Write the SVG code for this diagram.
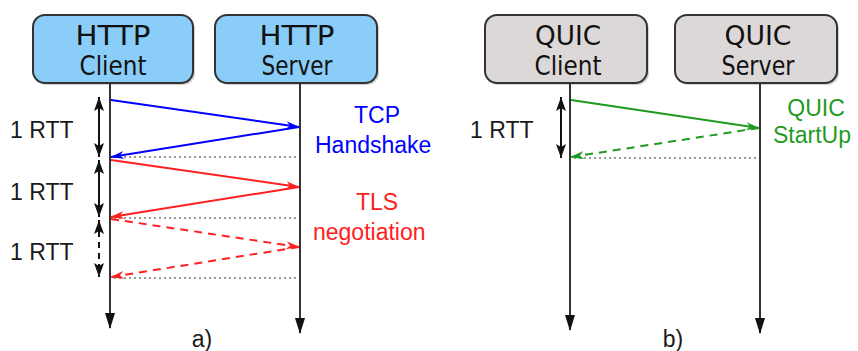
<svg xmlns="http://www.w3.org/2000/svg" width="858" height="351" viewBox="0 0 858 351">
  <style>
    .box-http { fill: #89cdf8; stroke: #333; stroke-width: 2; }
    .box-quic { fill: #dcd8d8; stroke: #333; stroke-width: 2; }
    .shadow { fill: #999; opacity: 0.45; }
    .boxtxt { font-family: "DejaVu Sans", sans-serif; font-size: 27px; fill: #111; text-anchor: middle; }
    .life { stroke: #333; stroke-width: 2; fill: none; }
    .rtt { stroke: #111; stroke-width: 2; fill: none; }
    .dot { stroke: #777; stroke-width: 1.5; stroke-dasharray: 2 3; fill: none; }
    .lbl { font-family: "Liberation Sans", Arial, sans-serif; font-size: 23px; }
    .rtttxt { font-family: "Liberation Sans", Arial, sans-serif; font-size: 23px; fill: #1a1a1a; }
    .msg { stroke-width: 2; fill: none; }
    .dash { stroke-dasharray: 8 6; }
  </style>
  <defs>
    <marker id="lifehead" markerWidth="16" markerHeight="10" refX="15" refY="5" orient="auto" markerUnits="userSpaceOnUse" viewBox="0 0 16 10">
      <path d="M0,0 L16,5 L0,10 z" fill="#111"/>
    </marker>
    <marker id="rtthead" markerWidth="14" markerHeight="10" refX="14" refY="5" orient="auto-start-reverse" markerUnits="userSpaceOnUse" viewBox="0 0 14 10">
      <path d="M0,0 L14,5 L0,10 L3,5 z" fill="#111"/>
    </marker>
    <marker id="ablue" markerWidth="14" markerHeight="8" refX="13" refY="4" orient="auto" markerUnits="userSpaceOnUse" viewBox="0 0 14 8">
      <path d="M0,0 L14,4 L0,8 L4,4 z" fill="#0000ff"/>
    </marker>
    <marker id="ared" markerWidth="14" markerHeight="8" refX="13" refY="4" orient="auto" markerUnits="userSpaceOnUse" viewBox="0 0 14 8">
      <path d="M0,0 L14,4 L0,8 L4,4 z" fill="#ff2020"/>
    </marker>
    <marker id="agreen" markerWidth="14" markerHeight="8" refX="13" refY="4" orient="auto" markerUnits="userSpaceOnUse" viewBox="0 0 14 8">
      <path d="M0,0 L14,4 L0,8 L4,4 z" fill="#1f9a1f"/>
    </marker>
  </defs>

  <rect width="858" height="351" fill="#ffffff"/>

  <!-- Nodes -->
  <g id="http-client">
    <rect class="shadow" x="35" y="17" width="160" height="68" rx="12"/>
    <rect class="box-http" x="33" y="15" width="160" height="68" rx="12"/>
    <text class="boxtxt" x="113" y="45" textLength="75" lengthAdjust="spacingAndGlyphs">HTTP</text>
    <text class="boxtxt" x="113" y="75" textLength="67" lengthAdjust="spacingAndGlyphs">Client</text>
  </g>
  <g id="http-server">
    <rect class="shadow" x="217" y="17" width="162" height="68" rx="12"/>
    <rect class="box-http" x="215" y="15" width="162" height="68" rx="12"/>
    <text class="boxtxt" x="297" y="45" textLength="75" lengthAdjust="spacingAndGlyphs">HTTP</text>
    <text class="boxtxt" x="297" y="75" textLength="71" lengthAdjust="spacingAndGlyphs">Server</text>
  </g>
  <g id="quic-client">
    <rect class="shadow" x="487" y="17" width="162" height="68" rx="12"/>
    <rect class="box-quic" x="485" y="15" width="162" height="68" rx="12"/>
    <text class="boxtxt" x="568" y="45" textLength="66" lengthAdjust="spacingAndGlyphs">QUIC</text>
    <text class="boxtxt" x="568" y="75" textLength="67" lengthAdjust="spacingAndGlyphs">Client</text>
  </g>
  <g id="quic-server">
    <rect class="shadow" x="677" y="17" width="162" height="68" rx="12"/>
    <rect class="box-quic" x="675" y="15" width="162" height="68" rx="12"/>
    <text class="boxtxt" x="758" y="45" textLength="67" lengthAdjust="spacingAndGlyphs">QUIC</text>
    <text class="boxtxt" x="758" y="75" textLength="73" lengthAdjust="spacingAndGlyphs">Server</text>
  </g>

  <!-- Connectors -->
  <g id="connectors">
    <!-- lifelines -->
    <line class="life" x1="110" y1="83" x2="110" y2="328" marker-end="url(#lifehead)"/>
    <line class="life" x1="300" y1="83" x2="300" y2="333" marker-end="url(#lifehead)"/>
    <line class="life" x1="570" y1="83" x2="570" y2="330" marker-end="url(#lifehead)"/>
    <line class="life" x1="760" y1="83" x2="760" y2="333" marker-end="url(#lifehead)"/>

    <!-- dotted completion lines -->
    <line class="dot" x1="114" y1="157" x2="299" y2="157"/>
    <line class="dot" x1="114" y1="218" x2="299" y2="218"/>
    <line class="dot" x1="114" y1="278" x2="299" y2="278"/>
    <line class="dot" x1="574" y1="158" x2="759" y2="158"/>

    <!-- RTT arrows -->
    <line class="rtt" x1="99" y1="97" x2="99" y2="157" marker-start="url(#rtthead)" marker-end="url(#rtthead)"/>
    <line class="rtt" x1="99" y1="160" x2="99" y2="217" marker-start="url(#rtthead)" marker-end="url(#rtthead)"/>
    <line class="rtt" x1="99" y1="220" x2="99" y2="277" stroke-dasharray="6 5" marker-start="url(#rtthead)" marker-end="url(#rtthead)"/>
    <line class="rtt" x1="561" y1="97" x2="561" y2="158" marker-start="url(#rtthead)" marker-end="url(#rtthead)"/>

    <!-- TCP handshake -->
    <line class="msg" stroke="#0000ff" x1="111" y1="100" x2="299" y2="127" marker-end="url(#ablue)"/>
    <line class="msg" stroke="#0000ff" x1="299" y1="127" x2="111" y2="157" marker-end="url(#ablue)"/>
    <!-- TLS negotiation -->
    <line class="msg" stroke="#ff2020" x1="111" y1="160" x2="299" y2="187" marker-end="url(#ared)"/>
    <line class="msg" stroke="#ff2020" x1="299" y1="187" x2="111" y2="217" marker-end="url(#ared)"/>
    <line class="msg dash" stroke="#ff2020" x1="111" y1="219" x2="299" y2="247" marker-end="url(#ared)"/>
    <line class="msg dash" stroke="#ff2020" x1="299" y1="247" x2="111" y2="277" marker-end="url(#ared)"/>
    <!-- QUIC startup -->
    <line class="msg" stroke="#1f9a1f" x1="571" y1="100" x2="759" y2="128" marker-end="url(#agreen)"/>
    <line class="msg dash" stroke="#1f9a1f" x1="759" y1="128" x2="571" y2="157" marker-end="url(#agreen)"/>
  </g>

  <!-- Labels -->
  <text class="rtttxt" x="10" y="138">1 RTT</text>
  <text class="rtttxt" x="10" y="200">1 RTT</text>
  <text class="rtttxt" x="10" y="260">1 RTT</text>
  <text class="rtttxt" x="470" y="138">1 RTT</text>

  <text class="lbl" fill="#0000ff" x="377" y="123" text-anchor="middle">TCP</text>
  <text class="lbl" fill="#0000ff" x="315" y="153">Handshake</text>
  <text class="lbl" fill="#ff2020" x="377" y="210" text-anchor="middle">TLS</text>
  <text class="lbl" fill="#ff2020" x="313" y="240">negotiation</text>
  <text class="lbl" fill="#1f9a1f" x="816" y="116" text-anchor="middle" font-size="23">QUIC</text>
  <text class="lbl" fill="#1f9a1f" x="773" y="143" font-size="24">StartUp</text>

  <text class="lbl" fill="#1a1a1a" x="202" y="347" text-anchor="middle" font-size="22">a)</text>
  <text class="lbl" fill="#1a1a1a" x="673" y="347" text-anchor="middle" font-size="22">b)</text>
</svg>
